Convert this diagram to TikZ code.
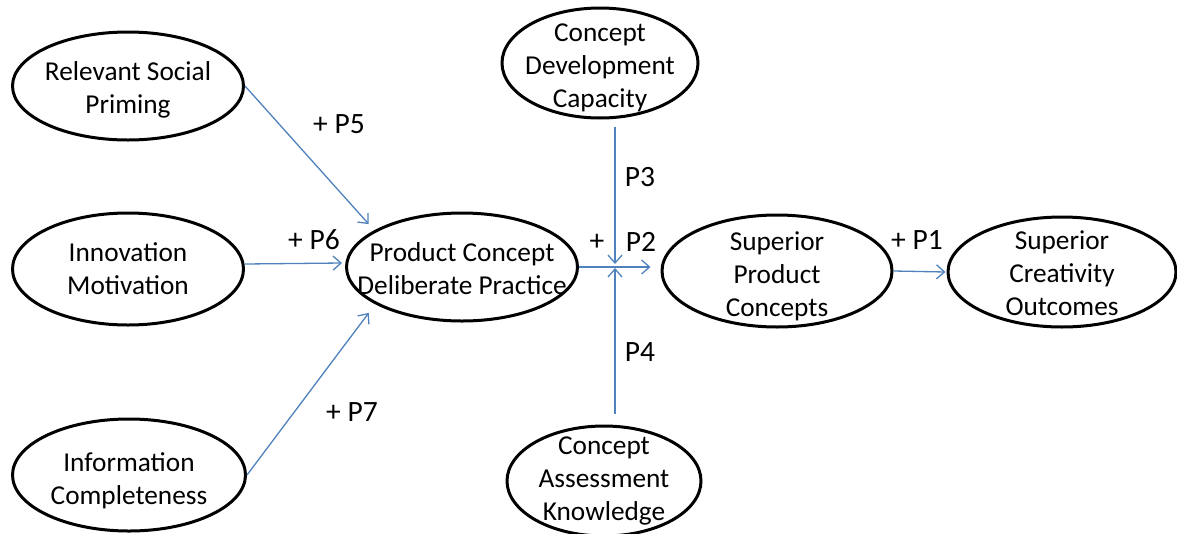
\documentclass[tikz,border=0pt]{standalone}
\usepackage{fontspec}
\setmainfont{Carlito}
\usetikzlibrary{shapes.geometric,arrows.meta}

\definecolor{linkblue}{RGB}{79,129,189}

\tikzset{
  bodytext/.style={font=\fontsize{27.3}{33}\selectfont, align=center, inner sep=0pt},
  construct/.style={draw=black, line width=3pt, ellipse, inner sep=0pt},
  link/.style={draw=linkblue, line width=1.3pt,
    -{Straight Barb[length=8pt,width=14pt]}},
  tag/.style={font=\fontsize{29.5}{35}\selectfont, inner sep=0pt}
}
% an ellipse of fixed size with its text centred inside (#5 = text offset)
\newcommand{\construct}[6]{%
  \node[construct, minimum width=#3, minimum height=#4,
        label={[bodytext, yshift=-#5]center:#6}] (#1) at #2 {};}

\begin{document}
\begin{tikzpicture}[x=1pt,y=-1pt]
\useasboundingbox (0,0) rectangle (1177,533);

% constructs
\construct{rsp}{(128,86)}{231pt}{108pt}{4pt}{Relevant Social\\Priming}
\construct{im}{(128,269)}{231pt}{112pt}{0pt}{Innovation\\Motivation}
\construct{ic}{(129,475)}{233pt}{112pt}{6pt}{Information\\Completeness}
\construct{pcdp}{(462,267)}{231pt}{108pt}{2pt}{Product Concept\\Deliberate Practice}
\construct{cdc}{(600,63)}{196pt}{110pt}{5pt}{Concept\\Development\\Capacity}
\construct{cak}{(604,481)}{194pt}{110pt}{0pt}{Concept\\Assessment\\Knowledge}
\construct{spc}{(777,271)}{230pt}{112pt}{5pt}{Superior\\Product\\Concepts}
\construct{sco}{(1062,272)}{228pt}{110pt}{1pt}{Superior\\Creativity\\Outcomes}

% point where the moderating paths meet the P2 path
\coordinate (j) at (615,266);

% antecedents of deliberate practice
\draw[link] (rsp.east) -- ([xshift=-19pt]pcdp.150);
\draw[link] ([yshift=5pt]im.east) -- ([xshift=-3pt,yshift=4pt]pcdp.west);
\draw[link] (ic.east) -- ([xshift=-19pt,yshift=-3pt]pcdp.210);

% main path and moderators
\draw[link, shorten >=10pt] (pcdp.east) -- (spc.west |- pcdp.east);
\draw[link, shorten <=7pt] (cdc.south -| j) -- ([yshift=2pt]j);
\draw[link, shorten <=11pt] (cak.north -| j) -- ([yshift=-2pt]j);
\draw[link] (spc.east) -- ([xshift=-1pt]sco.west);

% path labels
\node[tag] (l5) at (339,124) {+ P5};
\node[tag] (l6) at (314,240) {+ P6};
\node[tag] (l7) at (352,412) {+ P7};
\node[tag] (lp) at (597,242) {+};
\node[tag] (l2) at (641,242) {P2};
\node[tag] (l3) at (640,177) {P3};
\node[tag] (l4) at (640,352) {P4};
\node[tag] (l1) at (917,240) {+ P1};
\end{tikzpicture}
\end{document}
